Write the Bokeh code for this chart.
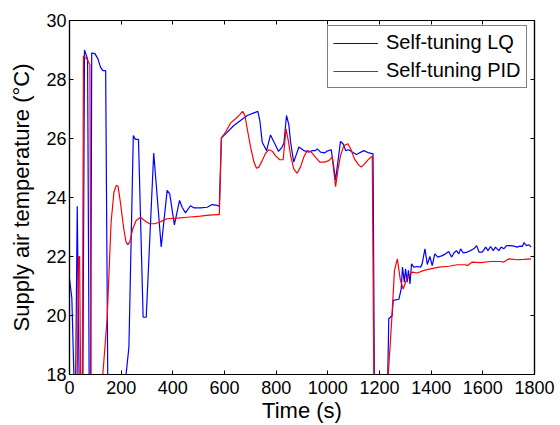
from bokeh.plotting import figure
from bokeh.models import (Range1d, LinearAxis, FixedTicker, Legend, LegendItem,
                          CustomLabelingPolicy)
from bokeh.embed import file_html
from bokeh.resources import INLINE

# Supply air temperature response (°C) versus time (s) for two controllers
lq_time = [0, 9, 17, 24, 30, 37, 52, 58, 64, 70, 76, 82, 86, 99, 110, 120, 129, 140, 148,
           180, 219, 230, 247, 255, 267, 285, 297, 326, 355, 378, 388, 406, 426, 436, 449,
           468, 481, 507, 533, 552, 572, 580, 588, 610, 636, 662, 688, 714, 729, 737, 746,
           763, 778, 794, 809, 823, 830, 840, 849, 856, 868, 888, 907, 927, 940, 952, 959,
           972, 987, 997, 1013, 1030, 1049, 1059, 1069, 1081, 1094, 1111, 1139, 1159, 1175,
           1180, 1210, 1232, 1236, 1249, 1253, 1275, 1284, 1289, 1296, 1301, 1307, 1312,
           1318, 1324, 1333, 1346, 1359, 1365, 1376, 1385, 1395, 1404, 1414, 1426, 1443,
           1456, 1468, 1479, 1488, 1498, 1507, 1514, 1524, 1540, 1552, 1565, 1576, 1585,
           1598, 1611, 1620, 1630, 1640, 1649, 1662, 1671, 1681, 1692, 1707, 1720, 1733,
           1743, 1753, 1759, 1769, 1778, 1787]
lq_temp = [21.24, 20.6, 18.0, 18.0, 23.7, 18.0, 18.0, 29.0, 28.85, 28.7, 18.0, 18.0, 28.9,
           28.87, 28.7, 28.42, 28.3, 28.3, 18.0, 18.0, 18.0, 18.93, 26.1, 25.97, 25.97,
           19.94, 19.94, 25.51, 22.32, 24.24, 24.12, 23.07, 23.9, 23.67, 23.48, 23.72,
           23.65, 23.65, 23.67, 23.76, 23.73, 23.7, 26.02, 26.21, 26.44, 26.61, 26.78,
           26.87, 26.92, 26.6, 25.87, 25.59, 26.12, 25.84, 25.56, 25.71, 25.84, 26.78,
           26.47, 25.87, 25.2, 25.71, 25.59, 25.54, 25.59, 25.59, 25.65, 25.54, 25.51,
           25.57, 25.62, 24.6, 25.9, 25.82, 25.59, 25.62, 25.54, 25.46, 25.59, 25.51,
           25.48, 18.0, 18.0, 18.0, 19.89, 20.0, 20.51, 20.55, 20.9, 21.64, 21.13, 21.58,
           21.13, 21.53, 21.07, 21.75, 21.64, 21.66, 21.64, 21.75, 22.26, 21.73, 22.0,
           21.69, 22.09, 21.98, 22.03, 22.09, 22.17, 21.98, 22.12, 22.2, 22.09, 22.26,
           22.12, 22.15, 22.2, 22.26, 22.37, 22.15, 22.15, 22.32, 22.2, 22.34, 22.2,
           22.32, 22.2, 22.32, 22.26, 22.37, 22.37, 22.35, 22.32, 22.35, 22.34, 22.47,
           22.37, 22.4, 22.32]

pid_time = [0, 20, 30, 35, 39, 43, 50, 54, 62, 71, 79, 83, 100, 129, 146, 161, 172, 181,
            188, 197, 210, 219, 226, 233, 245, 258, 275, 290, 310, 329, 349, 368, 378, 417,
            456, 507, 540, 572, 580, 588, 604, 623, 643, 659, 670, 679, 688, 701, 714, 724,
            733, 746, 759, 772, 785, 797, 814, 827, 838, 847, 856, 868, 881, 894, 907, 920,
            936, 952, 969, 987, 1004, 1017, 1030, 1039, 1049, 1062, 1078, 1090, 1103, 1116,
            1129, 1142, 1159, 1172, 1178, 1210, 1234, 1247, 1258, 1269, 1281, 1292, 1307,
            1327, 1346, 1372, 1398, 1430, 1468, 1501, 1533, 1540, 1559, 1591, 1630, 1669,
            1681, 1701, 1733, 1759, 1787]
pid_temp = [18.0, 18.0, 18.0, 22.0, 22.0, 18.0, 18.0, 28.8, 28.75, 28.64, 28.5, 18.0, 18.0,
            18.0, 19.94, 23.16, 24.18, 24.41, 24.38, 23.84, 22.94, 22.49, 22.4, 22.49, 22.94,
            23.22, 23.33, 23.22, 23.11, 23.11, 23.16, 23.25, 23.28, 23.3, 23.33, 23.37,
            23.4, 23.42, 23.42, 26.02, 26.21, 26.52, 26.67, 26.81, 26.92, 26.78, 26.33,
            25.71, 25.2, 24.99, 25.03, 25.25, 25.5, 25.62, 25.57, 25.42, 25.28, 25.28,
            26.33, 25.93, 25.42, 24.97, 24.82, 25.03, 25.37, 25.59, 25.54, 25.37, 25.2,
            25.2, 25.25, 25.37, 24.37, 24.92, 25.42, 25.76, 25.82, 25.62, 25.31, 25.14,
            25.03, 25.14, 25.31, 25.4, 18.0, 18.0, 18.0, 19.8, 21.53, 21.92, 21.19, 20.9,
            21.28, 21.47, 21.44, 21.53, 21.58, 21.64, 21.67, 21.72, 21.72, 21.69, 21.81,
            21.79, 21.83, 21.83, 21.81, 21.92, 21.89, 21.9, 21.92]

x_ticks = [0, 200, 400, 600, 800, 1000, 1200, 1400, 1600, 1800]
y_ticks = [18, 20, 22, 24, 26, 28, 30]

FONT = "Liberation Sans"

p = figure(width=560, height=425, output_backend="svg", toolbar_location=None,
           x_range=Range1d(0, 1800), y_range=Range1d(18, 30),
           min_border_left=69, min_border_right=26, min_border_top=20,
           min_border_bottom=51, background_fill_color="white",
           border_fill_color="white")

p.xgrid.visible = False
p.ygrid.visible = False
p.outline_line_color = "black"
p.outline_line_width = 1.2

# box-style axes: the top and right ones carry tick marks only
no_labels = CustomLabelingPolicy(
    code="for (const i of Array.from(indices.ones())) { indices.unset(i) } return indices")


def style_axis(ax, ticks, show_labels, standoff=5):
    ax.ticker = FixedTicker(ticks=ticks)
    ax.major_tick_in = 4
    ax.major_tick_out = 0
    ax.minor_tick_line_color = None
    ax.axis_line_color = "black"
    ax.axis_line_width = 1.2
    ax.major_tick_line_color = "black"
    ax.major_label_text_font = FONT
    ax.major_label_text_color = "black"
    if show_labels:
        ax.major_label_text_font_size = "18px"
        ax.major_label_standoff = standoff
    else:
        ax.major_label_text_font_size = "0px"
        ax.major_label_standoff = 0
        ax.major_label_policy = no_labels


style_axis(p.xaxis[0], x_ticks, True, standoff=6)
style_axis(p.yaxis[0], y_ticks, True, standoff=3)

p.xaxis.axis_label = "Time (s)"
p.yaxis.axis_label = "Supply air temperature (°C)"
for ax in (p.xaxis[0], p.yaxis[0]):
    ax.axis_label_text_font = FONT
    ax.axis_label_text_font_size = "22px"
    ax.axis_label_text_font_style = "normal"
    ax.axis_label_text_color = "black"
p.xaxis.axis_label_standoff = 1
p.yaxis.axis_label_standoff = 9

top_axis = LinearAxis()
right_axis = LinearAxis()
style_axis(top_axis, x_ticks, False)
style_axis(right_axis, y_ticks, False)
p.add_layout(top_axis, "above")
p.add_layout(right_axis, "right")

lq = p.line(lq_time, lq_temp, line_color="#0000ff", line_width=1.2)
pid = p.line(pid_time, pid_temp, line_color="#ff0000", line_width=1.2)

legend = Legend(items=[LegendItem(label="Self-tuning LQ", renderers=[lq]),
                       LegendItem(label="Self-tuning PID", renderers=[pid])],
                location=(258, 286))
legend.border_line_color = "black"
legend.border_line_width = 1
legend.background_fill_color = "white"
legend.background_fill_alpha = 1.0
legend.label_text_font = FONT
legend.label_text_font_size = "20px"
legend.label_text_color = "black"
legend.glyph_width = 45
legend.glyph_height = 20
legend.label_height = 20
legend.spacing = 5
legend.padding = 5
legend.margin = 0
legend.label_standoff = 8
p.add_layout(legend)

open("out.html", "w").write(file_html(p, INLINE))
